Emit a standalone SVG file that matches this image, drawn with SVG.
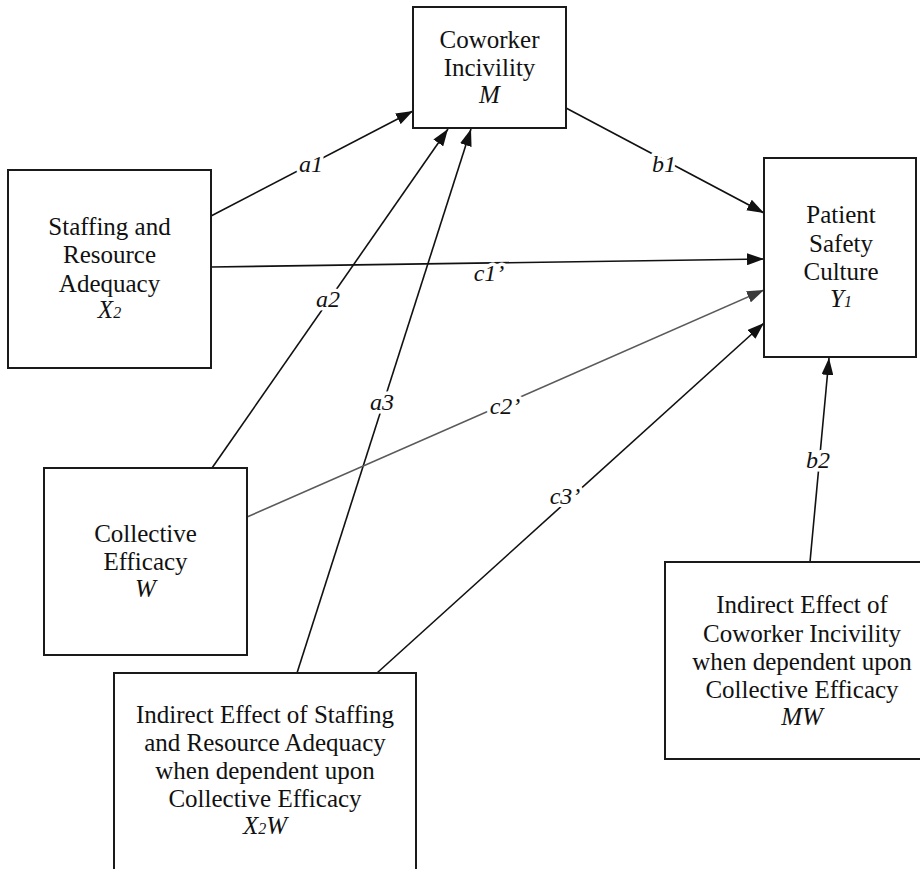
<svg xmlns="http://www.w3.org/2000/svg" width="920" height="869" viewBox="0 0 920 869" font-family="Liberation Serif, Times New Roman, DejaVu Serif, serif">
<defs>
<style>
.box{fill:#fff;stroke:#1a1a1a;stroke-width:2}
.t{font-family:'Liberation Serif','Times New Roman','DejaVu Serif',serif;font-size:25px;fill:#111;text-anchor:middle}
.i{font-style:italic}
.sub{font-size:16px}
.edge{stroke:#111;stroke-width:1.6;fill:none}
.gray{stroke:#5a5a5a;stroke-width:1.6;fill:none}
.lbl{font-family:'Liberation Serif','Times New Roman','DejaVu Serif',serif;font-size:24px;font-style:italic;fill:#111;text-anchor:middle;stroke:#fff;stroke-width:7;paint-order:stroke;stroke-linejoin:round}
</style>
<marker id="ah" markerUnits="userSpaceOnUse" markerWidth="18" markerHeight="12" refX="17" refY="6" orient="auto">
<path d="M0,0 L17,6 L0,12 z" fill="#111"/>
</marker>
<marker id="ahg" markerUnits="userSpaceOnUse" markerWidth="18" markerHeight="12" refX="17" refY="6" orient="auto">
<path d="M0,0 L17,6 L0,12 z" fill="#3a3a3a"/>
</marker>
</defs>
<rect width="920" height="869" fill="#fff"/>

<g id="connectors">
<line id="e-a1" class="edge" x1="211" y1="216" x2="413" y2="111" marker-end="url(#ah)"/>
<line id="e-b1" class="edge" x1="566" y1="108" x2="764" y2="213" marker-end="url(#ah)"/>
<line id="e-c1" class="edge" x1="211" y1="267" x2="764" y2="259" marker-end="url(#ah)"/>
<line id="e-a2" class="edge" x1="212" y1="468" x2="448" y2="129" marker-end="url(#ah)"/>
<line id="e-a3" class="edge" x1="297" y1="673" x2="471" y2="129" marker-end="url(#ah)"/>
<line id="e-c2" class="gray" x1="247" y1="517" x2="764" y2="290" marker-end="url(#ahg)"/>
<line id="e-c3" class="edge" x1="377" y1="673" x2="764" y2="323" marker-end="url(#ah)"/>
<line id="e-b2" class="edge" x1="810" y1="562" x2="829" y2="358" marker-end="url(#ah)"/>
<text class="lbl" x="311" y="172">a1</text>
<text class="lbl" x="664" y="172">b1</text>
<text class="lbl" x="489" y="281">c1’</text>
<text class="lbl" x="328" y="307">a2</text>
<text class="lbl" x="382" y="410">a3</text>
<text class="lbl" x="505" y="414">c2’</text>
<text class="lbl" x="565" y="504">c3’</text>
<text class="lbl" x="818" y="468">b2</text>
</g>

<g id="node-M">
<rect class="box" x="413" y="7" width="153" height="121"/>
<text class="t" x="489.5" y="48">Coworker</text>
<text class="t" x="489.5" y="76">Incivility</text>
<text class="t i" x="489.5" y="103">M</text>
</g>

<g id="node-X2">
<rect class="box" x="8" y="170" width="203" height="198"/>
<text class="t" x="109.5" y="235">Staffing and</text>
<text class="t" x="109.5" y="263">Resource</text>
<text class="t" x="109.5" y="292">Adequacy</text>
<text class="t i" x="109.5" y="318">X<tspan class="sub">2</tspan></text>
</g>

<g id="node-Y1">
<rect class="box" x="764" y="158" width="152" height="199"/>
<text class="t" x="841" y="223">Patient</text>
<text class="t" x="841" y="252">Safety</text>
<text class="t" x="841" y="280">Culture</text>
<text class="t i" x="841" y="307">Y<tspan class="sub">1</tspan></text>
</g>

<g id="node-W">
<rect class="box" x="44" y="468" width="203" height="187"/>
<text class="t" x="145.5" y="542">Collective</text>
<text class="t" x="145.5" y="570">Efficacy</text>
<text class="t i" x="145.5" y="597">W</text>
</g>

<g id="node-X2W">
<rect class="box" x="114" y="673" width="302" height="210"/>
<text class="t" x="265" y="723">Indirect Effect of Staffing</text>
<text class="t" x="265" y="751">and Resource Adequacy</text>
<text class="t" x="265" y="779">when dependent upon</text>
<text class="t" x="265" y="807">Collective Efficacy</text>
<text class="t i" x="265" y="834">X<tspan class="sub">2</tspan>W</text>
</g>

<g id="node-MW">
<rect class="box" x="665" y="562" width="275" height="197"/>
<text class="t" x="802" y="613">Indirect Effect of</text>
<text class="t" x="802" y="642">Coworker Incivility</text>
<text class="t" x="802" y="670">when dependent upon</text>
<text class="t" x="802" y="698">Collective Efficacy</text>
<text class="t i" x="802" y="725">MW</text>
</g>
</svg>
